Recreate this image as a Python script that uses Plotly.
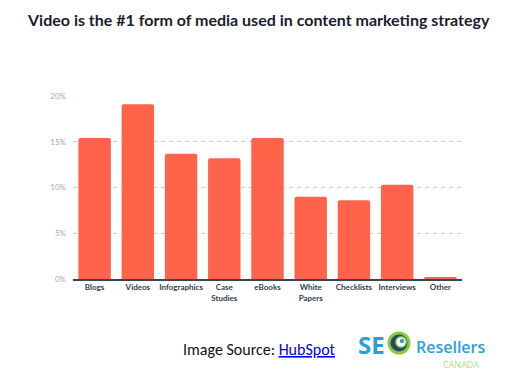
import plotly.graph_objects as go

categories = ["Blogs", "Videos", "Infographics", "Case<br>Studies", "eBooks",
              "White<br>Papers", "Checklists", "Interviews", "Other"]
values = [15.4, 19.1, 13.7, 13.2, 15.4, 9.0, 8.6, 10.3, 0.2]
tick_vals = [0, 5, 10, 15, 20]
tick_text = ["0%", "5%", "10%", "15%", "20%"]

OFF = 8  # default page body margin
W, H = 511 - OFF, 385 - OFF
ML, MT = 73 - OFF, 96 - OFF
MR = W - (462 - OFF)
MB = H - (279 - OFF)

def px(x):
    x = x - OFF
    return (x - ML) / (W - ML - MR)

def py(y):
    y = y - OFF
    return (H - MB - y) / (H - MT - MB)

fig = go.Figure()
fig.add_trace(go.Bar(
    x=categories, y=values,
    marker=dict(color="#FF634A", line=dict(width=0)),
    hoverinfo="skip",
))

fig.update_layout(
    width=W, height=H,
    margin=dict(l=ML, r=MR, t=MT, b=MB, autoexpand=False),
    paper_bgcolor="white", plot_bgcolor="white",
    bargap=0.25,
    barcornerradius=2,
    showlegend=False,
    font=dict(family="Lato, sans-serif"),
    xaxis=dict(
        showgrid=False, showline=True, linecolor="#33475B", linewidth=1.5,
        ticks="", tickfont=dict(size=8, color="#2D3E50", family="Lato, sans-serif", weight="bold"),
        range=[-0.5, 8.5], fixedrange=True, automargin=False,
    ),
    yaxis=dict(
        range=[0, 20], tickvals=tick_vals, ticktext=tick_text,
        showgrid=True, gridcolor="#BFCBDA", griddash="4px,4px", gridwidth=1.2,
        zeroline=False, showline=False, ticks="",
        tickfont=dict(size=8, color="#99ACC2"), ticklabelstandoff=6,
        fixedrange=True, automargin=False,
    ),
)

# Title
fig.add_annotation(
    text="Video is the #1 form of media used in content marketing strategy",
    xref="paper", yref="paper", x=px(258), y=py(19), xanchor="center", yanchor="middle",
    showarrow=False, font=dict(size=16, color="#1A1D2E", family="Lato, sans-serif", weight="bold"),
)

# Source line
fig.add_annotation(
    text="Image Source: <span style='color:#0000EE'><u>HubSpot</u></span>",
    xref="paper", yref="paper", x=px(181), y=py(349), xanchor="left", yanchor="middle",
    showarrow=False, font=dict(size=16, color="#111111", family="Carlito, Liberation Sans, sans-serif"),
)

# Logo text
fig.add_annotation(
    text="<b>SE</b>", xref="paper", yref="paper", x=px(356), y=py(344),
    xanchor="left", yanchor="middle", showarrow=False,
    font=dict(size=24, color="#2B9FD9", family="Open Sans, sans-serif"),
)
fig.add_annotation(
    text="Resellers", xref="paper", yref="paper", x=px(414), y=py(347),
    xanchor="left", yanchor="middle", showarrow=False,
    font=dict(size=16, color="#2B9FD9", family="Open Sans, sans-serif", weight=600),
)
fig.add_annotation(
    text="CANADA", xref="paper", yref="paper", x=px(441), y=py(364),
    xanchor="left", yanchor="middle", showarrow=False,
    font=dict(size=9, color="#B7DA8C", family="Open Sans, sans-serif"),
)

# Logo "O" emblem
def circ(cx, cy, r, **kw):
    fig.add_shape(type="circle", xref="paper", yref="paper",
                  x0=px(cx - r), x1=px(cx + r), y0=py(cy + r), y1=py(cy - r), **kw)

circ(399, 343, 10, fillcolor="#1D4E6B", line=dict(color="#8DC63F", width=3))
circ(401, 342, 5, fillcolor="white", line=dict(color="#B9DB5A", width=1.5))
circ(402, 341, 2.2, fillcolor="#2B9FD9", line=dict(width=0))

fig.write_html("out.html")
